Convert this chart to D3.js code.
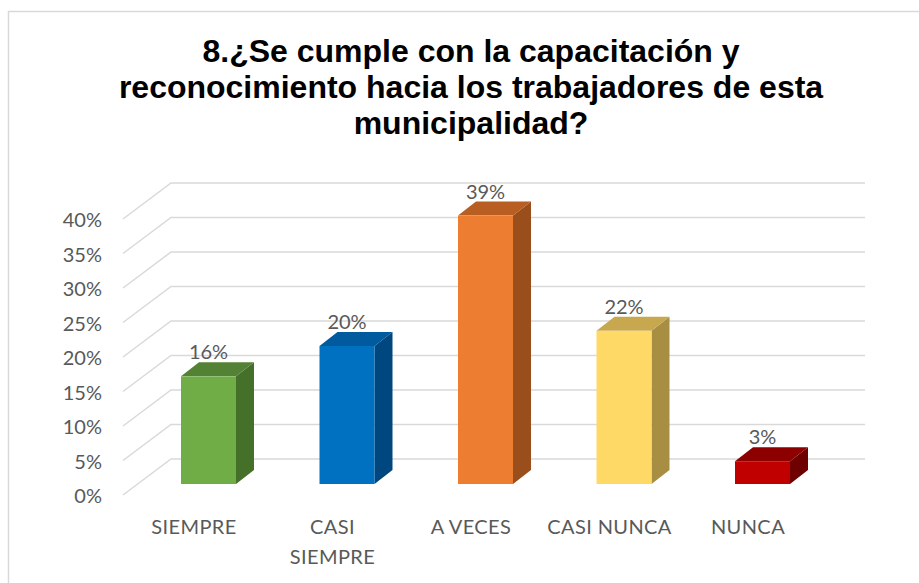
<!DOCTYPE html>
<html>
<head>
<meta charset="utf-8">
<script src="https://cdn.jsdelivr.net/npm/d3@7"></script>
<style>
  body { margin: 0; background: #fff; }
  svg { display: block; }
  .title { font-family: "Liberation Sans", Arial, sans-serif; font-weight: bold; font-size: 32px; fill: #000; }
  .tick-label, .cat-label, .value-label { font-family: Lato, "Open Sans", sans-serif; font-size: 20px; fill: #595959; }
  .cat-label { letter-spacing: 0.4px; }
</style>
</head>
<body>
<svg id="chart" width="919" height="583"></svg>
<script>
const titleLines = ["8.¿Se cumple con la capacitación y", "reconocimiento hacia los trabajadores de esta", "municipalidad?"];
const categories = ["SIEMPRE", "CASI SIEMPRE", "A VECES", "CASI NUNCA", "NUNCA"];
const values = [0.156, 0.2, 0.389, 0.222, 0.033];
const yTicks = [0, 0.05, 0.1, 0.15, 0.2, 0.25, 0.3, 0.35, 0.4];
const faceColors = ["#70AD47", "#0070C0", "#ED7D31", "#FFD966", "#C00000"];
const topColors = ["#548235", "#005A9E", "#B85E22", "#C7A84E", "#8C0000"];
const sideColors = ["#44702A", "#00477F", "#9A4E1C", "#A88E42", "#6E0000"];

const svg = d3.select("#chart");

// chart frame
svg.append("rect")
  .attr("x", 8.5).attr("y", 11.5)
  .attr("width", 930).attr("height", 600)
  .attr("fill", "none").attr("stroke", "#d9d9d9").attr("stroke-width", 1.5);

svg.append("g").selectAll("text")
  .data(titleLines)
  .join("text")
  .attr("class", "title")
  .attr("x", 471)
  .attr("y", (d, i) => 62 + i * 36)
  .attr("text-anchor", "middle")
  .text((d) => d);

// 3D layout: floor depth and bar depth
const wallDX = 48, wallDY = 36;
const barDX = 18, barDY = 14;
const barWidth = 55;
const frontLeft = 123, wallRight = 865;

const yFront = d3.scaleLinear().domain([0, 0.4]).range([495, 219]);
const yBar = d3.scaleLinear().domain([0, 0.4]).range([484, 208]);
const x = d3.scalePoint().domain(categories).range([208.5, 762.5]);

const grid = svg.append("g");
grid.selectAll("path")
  .data(yTicks)
  .join("path")
  .attr("d", (d) => {
    const y0 = yFront(d);
    return `M${frontLeft},${y0}L${frontLeft + wallDX},${y0 - wallDY}L${wallRight},${y0 - wallDY}`;
  })
  .attr("fill", "none")
  .attr("stroke", "#d9d9d9")
  .attr("stroke-width", 1.5);

svg.append("g").selectAll("text")
  .data(yTicks)
  .join("text")
  .attr("class", "tick-label")
  .attr("x", 102)
  .attr("y", (d) => yFront(d) + 8)
  .attr("text-anchor", "end")
  .text(d3.format(".0%"));

const bars = svg.append("g").selectAll("g")
  .data(categories)
  .join("g");

bars.append("path")
  .attr("d", (d, i) => {
    const x0 = x(d) - barWidth / 2, x1 = x0 + barWidth;
    const yt = yBar(values[i]), yb = yBar(0);
    return `M${x1},${yb}L${x1 + barDX},${yb - barDY}L${x1 + barDX},${yt - barDY}L${x1},${yt}Z`;
  })
  .attr("fill", (d, i) => sideColors[i]);

bars.append("path")
  .attr("d", (d, i) => {
    const x0 = x(d) - barWidth / 2, x1 = x0 + barWidth;
    const yt = yBar(values[i]);
    return `M${x0},${yt}L${x0 + barDX},${yt - barDY}L${x1 + barDX},${yt - barDY}L${x1},${yt}Z`;
  })
  .attr("fill", (d, i) => topColors[i]);

bars.append("rect")
  .attr("x", (d) => x(d) - barWidth / 2)
  .attr("y", (d, i) => yBar(values[i]))
  .attr("width", barWidth)
  .attr("height", (d, i) => yBar(0) - yBar(values[i]))
  .attr("fill", (d, i) => faceColors[i]);

bars.append("text")
  .attr("class", "value-label")
  .attr("x", (d) => x(d))
  .attr("y", (d, i) => yBar(values[i]) - barDY - 3)
  .attr("text-anchor", "middle")
  .text((d, i) => d3.format(".0%")(values[i]));

// category labels, wrapped onto two lines where needed
const catLabels = svg.append("g").selectAll("text")
  .data(categories)
  .join("text")
  .attr("class", "cat-label")
  .attr("x", (d) => x(d) - 14.5)
  .attr("y", 534)
  .attr("text-anchor", "middle");

catLabels.each(function (d) {
  const lines = d === "CASI SIEMPRE" ? ["CASI", "SIEMPRE"] : [d];
  d3.select(this).selectAll("tspan")
    .data(lines)
    .join("tspan")
    .attr("x", x(d) - 14.5)
    .attr("dy", (l, i) => (i ? 30 : 0))
    .text((l) => l);
});
</script>
</body>
</html>
